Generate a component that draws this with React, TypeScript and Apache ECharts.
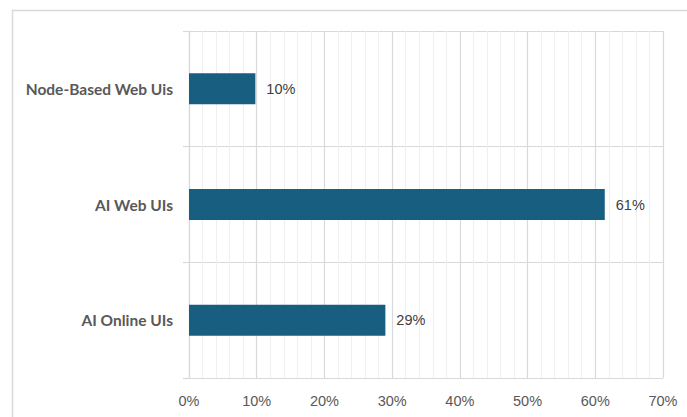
import React, { useEffect, useRef } from "react";
import * as echarts from "echarts";

const categories = ["Node-Based Web Uis", "AI Web UIs", "AI Online UIs"];
const values = [9.8, 61.4, 29.0];
const xTicks = [0, 10, 20, 30, 40, 50, 60, 70];

export default function App() {
  const ref = useRef<HTMLDivElement>(null);
  useEffect(() => {
    if (!ref.current) return;
    const chart = echarts.init(ref.current, null, { renderer: "svg" });
    chart.setOption({
      animation: false,
      backgroundColor: "#ffffff",
      graphic: [
        {
          type: "rect",
          shape: { x: 12.5, y: 10.5, width: 700, height: 420 },
          style: { fill: "none", stroke: "#d9d9d9", lineWidth: 1.5 },
          silent: true,
        },
      ],
      grid: { left: 189, right: 24, top: 31, bottom: 39, containLabel: false },
      xAxis: {
        type: "value",
        min: xTicks[0],
        max: xTicks[xTicks.length - 1],
        interval: 10,
        axisLine: { show: false },
        axisTick: { show: false },
        axisLabel: {
          formatter: (v: number) => `${v}%`,
          color: "#595959",
          fontFamily: "Liberation Sans, Arial, sans-serif",
          fontSize: 14.5,
          margin: 15,
        },
        splitLine: { show: true, lineStyle: { color: "#d9d9d9", width: 1.2 } },
        minorTick: { show: false, splitNumber: 5 },
        minorSplitLine: { show: true, lineStyle: { color: "#efefef", width: 1 } },
      },
      yAxis: {
        type: "category",
        data: categories,
        inverse: true,
        axisLine: { show: true, lineStyle: { color: "#d9d9d9", width: 1.2 } },
        axisTick: { show: true, length: 6, lineStyle: { color: "#d9d9d9", width: 1.2 } },
        axisLabel: {
          color: "#595959",
          fontFamily: "Lato, Noto Sans, sans-serif",
          fontWeight: "bold",
          fontSize: 15.5,
          margin: 16,
        },
        splitLine: { show: true, lineStyle: { color: "#d9d9d9", width: 1.2 } },
      },
      series: [
        {
          type: "bar",
          data: values,
          barWidth: 31,
          itemStyle: { color: "#175e81" },
          label: {
            show: true,
            position: "right",
            distance: 11,
            formatter: (p: any) => `${Math.round(p.value)}%`,
            color: "#404040",
            fontFamily: "Liberation Sans, Arial, sans-serif",
            fontSize: 14.5,
          },
        },
      ],
    });
    return () => chart.dispose();
  }, []);
  return (
    <div
      ref={ref}
      style={{ position: "fixed", left: 0, top: 0, width: 687, height: 417 }}
    />
  );
}
